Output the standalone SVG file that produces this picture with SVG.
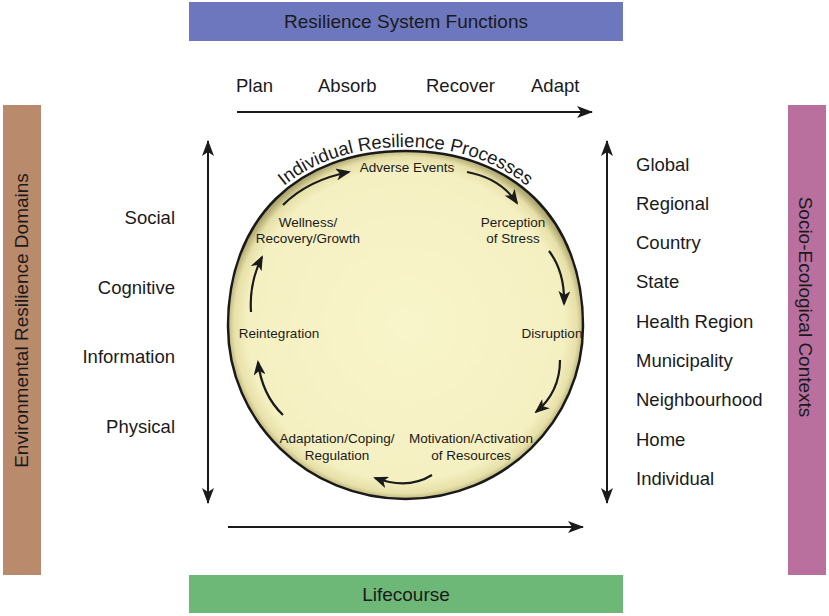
<svg xmlns="http://www.w3.org/2000/svg" width="829" height="616" viewBox="0 0 829 616">
<defs>
<style>
text{font-family:"Liberation Sans",Arial,sans-serif;fill:#1a1a1a}
.big{font-size:18.5px}
.bar{font-size:19px}
.in{font-size:13.5px;text-anchor:middle}
.ln{stroke:#1a1a1a;stroke-width:2;fill:none}
.cl{stroke:#1a1a1a;stroke-width:2.2;fill:none}
</style>
<marker id="ah" markerUnits="userSpaceOnUse" viewBox="0 0 16 12" refX="15" refY="6" markerWidth="16" markerHeight="12" orient="auto-start-reverse">
<path d="M0,0 L16,6 L0,12 L4,6 z" fill="#1a1a1a"/>
</marker>
<marker id="ch" markerUnits="userSpaceOnUse" viewBox="0 0 15 12" refX="13" refY="6" markerWidth="15" markerHeight="12" orient="auto">
<path d="M0,0 L15,6 L0,12 L4,6 z" fill="#1a1a1a"/>
</marker>
<radialGradient id="cg" cx="0.5" cy="0.5" r="0.52">
<stop offset="0" stop-color="#f8f5ca"/>
<stop offset="0.86" stop-color="#f5f0c2"/>
<stop offset="0.93" stop-color="#e7e0a9"/>
<stop offset="0.97" stop-color="#b3ac74"/>
<stop offset="1" stop-color="#9a9360"/>
</radialGradient>
</defs>
<rect width="829" height="616" fill="#ffffff"/>

<g id="bar-top">
<rect x="189" y="2" width="434" height="39" fill="#6d77bd"/>
<text class="bar" x="406" y="28" text-anchor="middle">Resilience System Functions</text>
</g>
<g id="bar-bottom">
<rect x="189" y="575" width="434" height="38" fill="#6db877"/>
<text class="bar" x="406" y="601" text-anchor="middle">Lifecourse</text>
</g>
<g id="bar-left">
<rect x="3" y="105" width="38" height="470" fill="#b98a6c"/>
<text class="bar" transform="translate(28,320.5) rotate(-90)" text-anchor="middle">Environmental Resilience Domains</text>
</g>
<g id="bar-right">
<rect x="788" y="105" width="38" height="470" fill="#b9709f"/>
<text class="bar" transform="translate(799,307) rotate(90)" text-anchor="middle">Socio-Ecological Contexts</text>
</g>

<g id="functions">
<text class="big" x="236" y="92">Plan</text>
<text class="big" x="318" y="92">Absorb</text>
<text class="big" x="426" y="92">Recover</text>
<text class="big" x="531" y="92">Adapt</text>
</g>

<g id="domains" text-anchor="end">
<text class="big" x="175" y="224">Social</text>
<text class="big" x="175" y="294">Cognitive</text>
<text class="big" x="175" y="363">Information</text>
<text class="big" x="175" y="433">Physical</text>
</g>

<g id="contexts">
<text class="big" x="636" y="171">Global</text>
<text class="big" x="636" y="210">Regional</text>
<text class="big" x="636" y="249">Country</text>
<text class="big" x="636" y="288">State</text>
<text class="big" x="636" y="328">Health Region</text>
<text class="big" x="636" y="367">Municipality</text>
<text class="big" x="636" y="406">Neighbourhood</text>
<text class="big" x="636" y="446">Home</text>
<text class="big" x="636" y="485">Individual</text>
</g>

<g id="process-circle">
<path d="M 228,326 C 228,219.3 297.2,151 405.5,151 C 513.8,151 583,219.3 583,326 C 583,421.5 503.5,499 405.5,499 C 307.5,499 228,421.5 228,326 Z" fill="url(#cg)" stroke="#1a1a1a" stroke-width="2.5"/>
<path id="tp" d="M 224,326 C 224,217 295,147 405.5,147 C 516,147 587,217 587,326" fill="none"/>
<text style="font-size:18.5px"><textPath href="#tp" startOffset="50%" text-anchor="middle">Individual Resilience Processes</textPath></text>
</g>

<g id="p-adverse"><text class="in" x="407" y="172">Adverse Events</text></g>
<g id="p-perception"><text class="in" x="513" y="227">Perception</text><text class="in" x="513" y="243">of Stress</text></g>
<g id="p-disruption"><text class="in" x="552" y="338">Disruption</text></g>
<g id="p-motivation"><text class="in" x="471" y="443">Motivation/Activation</text><text class="in" x="471" y="460">of Resources</text></g>
<g id="p-adaptation"><text class="in" x="337" y="443">Adaptation/Coping/</text><text class="in" x="337" y="460">Regulation</text></g>
<g id="p-reintegration"><text class="in" x="279" y="338">Reintegration</text></g>
<g id="p-wellness"><text class="in" x="308" y="227">Wellness/</text><text class="in" x="308" y="243">Recovery/Growth</text></g>

<g id="connectors">
<line class="ln" x1="237" y1="112" x2="592" y2="112" marker-end="url(#ah)"/>
<line class="ln" x1="228" y1="527" x2="583" y2="527" marker-end="url(#ah)"/>
<line class="ln" x1="208" y1="141" x2="208" y2="503" marker-start="url(#ah)" marker-end="url(#ah)"/>
<line class="ln" x1="607" y1="141" x2="607" y2="503" marker-start="url(#ah)" marker-end="url(#ah)"/>
<path class="cl" d="M 283,205 Q 308,180 349,172" marker-end="url(#ch)"/>
<path class="cl" d="M 467,172 Q 500,178 517,203" marker-end="url(#ch)"/>
<path class="cl" d="M 549,251 Q 565,272 564,304" marker-end="url(#ch)"/>
<path class="cl" d="M 560,360 Q 560,392 536,412" marker-end="url(#ch)"/>
<path class="cl" d="M 432,475 Q 408,490 375,478" marker-end="url(#ch)"/>
<path class="cl" d="M 283,415 Q 262,395 258,362" marker-end="url(#ch)"/>
<path class="cl" d="M 251,312 Q 249,283 262,257" marker-end="url(#ch)"/>
</g>
</svg>
